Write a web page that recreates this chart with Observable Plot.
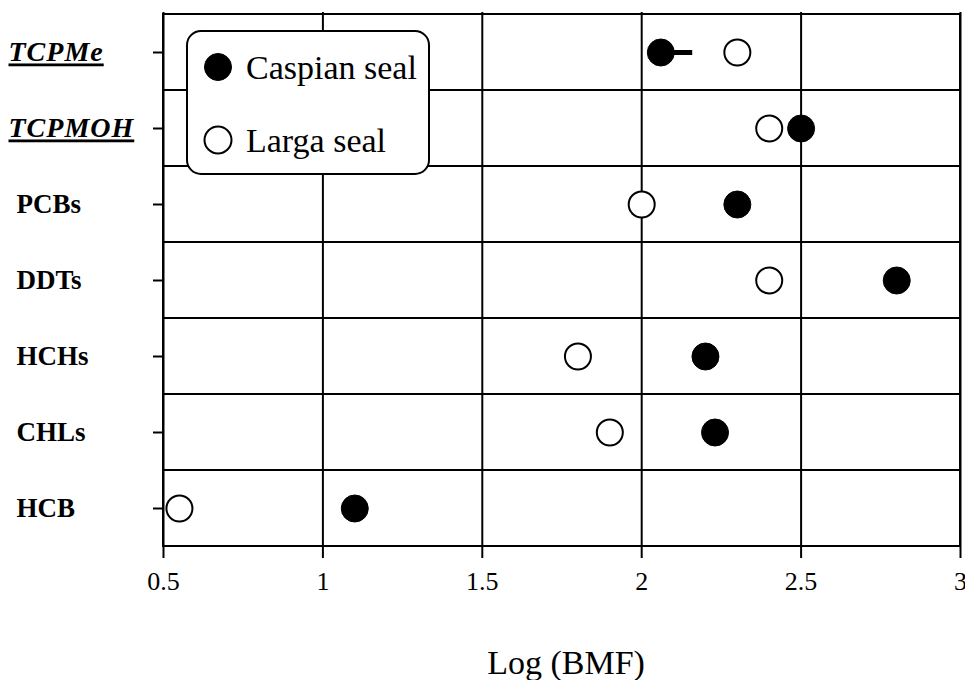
<!DOCTYPE html>
<html><head><meta charset="utf-8">
<script src="https://cdn.jsdelivr.net/npm/d3@7"></script>
<script src="https://cdn.jsdelivr.net/npm/@observablehq/plot@0.6"></script>
<style>body{margin:0;background:#fff}</style>
</head><body><div id="chart"></div>
<script>
const categories = ["TCPMe","TCPMOH","PCBs","DDTs","HCHs","CHLs","HCB"];
const italicLabels = ["TCPMe","TCPMOH"];
const caspian = [2.06, 2.50, 2.30, 2.80, 2.20, 2.23, 1.10];
const larga   = [2.30, 2.40, 2.00, 2.40, 1.80, 1.90, 0.55];
const xTicks = [0.5, 1, 1.5, 2, 2.5, 3];
const errCategory = ["TCPMe"];
const errFrom = [2.06];
const errTo = [2.16];
const series = ["Caspian seal", "Larga seal"];
const xLabel = "Log (BMF)";

const casData = categories.map((c, i) => ({cat: c, v: caspian[i]}));
const larData = categories.map((c, i) => ({cat: c, v: larga[i]}));
const errData = errCategory.map((c, i) => ({cat: c, a: errFrom[i], b: errTo[i]}));
const font = "'Liberation Serif', 'Times New Roman', serif";

const svg = Plot.plot({
  width: 965, height: 680,
  marginLeft: 163, marginRight: 5, marginTop: 12, marginBottom: 132,
  style: {fontFamily: font, background: "white", color: "black", overflow: "visible"},
  x: {type: "linear", domain: [0.5, 3]},
  y: {domain: categories, padding: 0},
  marks: [
    Plot.barX(categories, {y: d => d, x1: 0.5, x2: 3, fill: "none", stroke: "black", strokeWidth: 2}),
    Plot.ruleX(xTicks, {stroke: "black", strokeWidth: 2}),
    Plot.axisX({ticks: xTicks, tickFormat: d => String(d), tickSize: 10, tickPadding: 13, fontSize: 26, label: null, strokeWidth: 2}),
    Plot.axisY({tickSize: 10, tickFormat: () => "", label: null, strokeWidth: 2}),
    Plot.text(categories.filter(c => !italicLabels.includes(c)), {y: d => d, text: d => d, frameAnchor: "left", textAnchor: "start", dx: -147, fontSize: 27, fontWeight: "bold"}),
    Plot.text(italicLabels, {y: d => d, text: d => d, frameAnchor: "left", textAnchor: "start", dx: -155, fontSize: 28, fontWeight: "bold", fontStyle: "italic"}),
    Plot.text([xLabel], {text: d => d, frameAnchor: "bottom", dy: 115, dx: 4, fontSize: 34, lineAnchor: "middle"}),
    Plot.ruleY(errData, {y: "cat", x1: "a", x2: "b", stroke: "black", strokeWidth: 5}),
    Plot.dot(casData, {x: "v", y: "cat", r: 13.5, fill: "black", stroke: "black", strokeWidth: 1}),
    Plot.dot(larData, {x: "v", y: "cat", r: 13, fill: "white", stroke: "black", strokeWidth: 2})
  ]
});

const root = d3.select(svg);
root.selectAll("text").filter(function() { return italicLabels.includes(this.textContent); })
  .attr("text-decoration", "underline").attr("letter-spacing", "1px");
root.selectAll('g[aria-label="x-axis tick label"]').attr("font-size", 26);

// legend inside frame
const lg = root.append("g").attr("font-family", font).attr("text-anchor", "start");
lg.append("rect").attr("x", 187).attr("y", 31).attr("width", 242).attr("height", 143)
  .attr("rx", 14).attr("fill", "white").attr("stroke", "black").attr("stroke-width", 2);
const legendFill = ["black", "white"];
series.forEach((s, i) => {
  const cy = 67 + i * 73;
  lg.append("circle").attr("cx", 218).attr("cy", cy).attr("r", 13.5)
    .attr("fill", legendFill[i]).attr("stroke", "black").attr("stroke-width", i ? 2 : 1);
  lg.append("text").attr("x", 246).attr("y", cy).attr("dy", "0.35em")
    .attr("font-size", 34).attr("fill", "black").text(s);
});

document.getElementById("chart").appendChild(svg);
</script>
</body></html>
